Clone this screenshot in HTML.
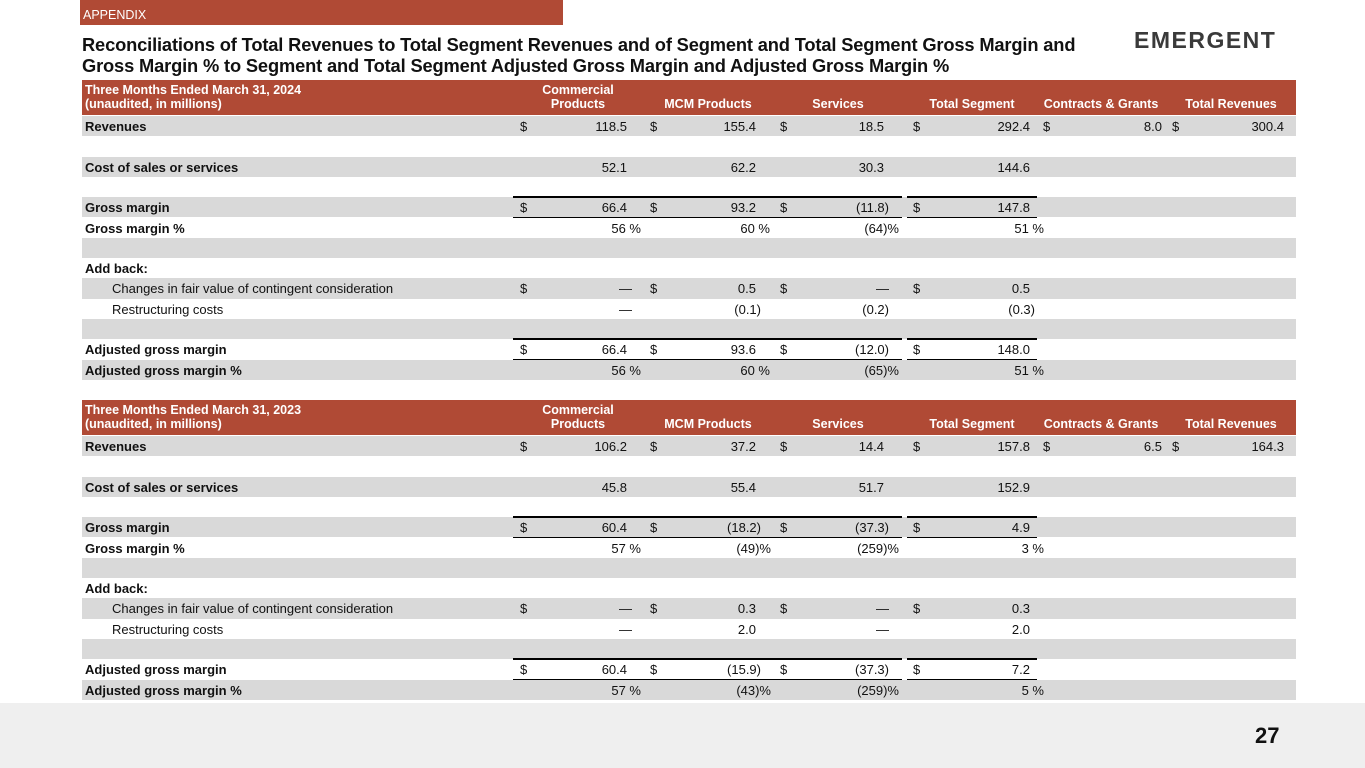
<!DOCTYPE html>
<html><head><meta charset="utf-8">
<style>
body{margin:0;width:1365px;height:768px;position:relative;overflow:hidden;background:#fff;font-family:"Liberation Sans",sans-serif;}
.abs{position:absolute;white-space:pre;}
.tbl-row{position:absolute;left:82px;width:1214px;}
.cell{position:absolute;white-space:pre;font-size:13px;color:#111;}
.hdr{position:absolute;left:82px;width:1214px;height:35px;background:#b04a35;}
.hl{position:absolute;color:#fff;font-weight:bold;font-size:12.5px;line-height:14px;white-space:pre;}
.rule{position:absolute;background:#000;}
</style></head><body>
<div class="abs" style="left:80px;top:0;width:483px;height:25px;background:#b04a35;"></div>
<div class="abs" style="left:83px;top:8px;font-size:12.5px;color:#fff;">APPENDIX</div>
<div class="abs" style="left:82px;top:34px;font-size:18.3px;font-weight:bold;color:#111;line-height:21px;letter-spacing:-0.15px;">Reconciliations of Total Revenues to Total Segment Revenues and of Segment and Total Segment Gross Margin and
Gross Margin % to Segment and Total Segment Adjusted Gross Margin and Adjusted Gross Margin %</div>
<div class="abs" style="left:1134px;top:27px;font-size:23px;font-weight:bold;color:#3a3a3a;letter-spacing:1.5px;">EMERGENT</div>
<div class="abs" style="left:0;top:703px;width:1365px;height:65px;background:#efefef;"></div>
<div class="abs" style="left:1255px;top:723px;font-size:22px;font-weight:bold;color:#111;">27</div>
<div id="root"></div>
<script>
const colHeaders=["Commercial\nProducts","MCM Products","Services","Total Segment","Contracts & Grants","Total Revenues"];
const rowLabels=["Revenues","","Cost of sales or services","","Gross margin","Gross margin %","","Add back:","Changes in fair value of contingent consideration","Restructuring costs","","Adjusted gross margin","Adjusted gross margin %"];
const rowBold=[1,0,1,0,1,1,0,1,0,0,0,1,1];
const rowIndent=[0,0,0,0,0,0,0,0,1,1,0,0,0];
const rowDollar=[1,0,0,0,1,0,0,0,1,0,0,1,0];
const rowPct=[0,0,0,0,0,1,0,0,0,0,0,0,1];
const periods=["Three Months Ended March 31, 2024","Three Months Ended March 31, 2023"];
const values2024=[
 ["118.5","155.4","18.5","292.4","8.0","300.4"],[],
 ["52.1","62.2","30.3","144.6"],[],
 ["66.4","93.2","(11.8)","147.8"],["56","60","(64)","51"],[],[],
 ["—","0.5","—","0.5"],["—","(0.1)","(0.2)","(0.3)"],[],
 ["66.4","93.6","(12.0)","148.0"],["56","60","(65)","51"]];
const values2023=[
 ["106.2","37.2","14.4","157.8","6.5","164.3"],[],
 ["45.8","55.4","51.7","152.9"],[],
 ["60.4","(18.2)","(37.3)","4.9"],["57","(49)","(259)","3"],[],[],
 ["—","0.3","—","0.3"],["—","2.0","—","2.0"],[],
 ["60.4","(15.9)","(37.3)","7.2"],["57","(43)","(259)","5"]];
const dollarX=[520,650,780,913,1043,1172];
const rightX=[627,756,884,1030,1162,1284];
const headCenter=[578,708,838,972,1101,1231];
const ruleSpans=[[513,902],[907,1037]];
const root=document.getElementById('root');
function mk(cls,css,txt){const d=document.createElement('div');d.className=cls;d.style.cssText=css;if(txt!==undefined)d.textContent=txt;root.appendChild(d);return d;}
function table(top,period,vals){
 const pitch=20.3;
 const h=mk('hdr','top:'+top+'px;');
 
 
 const pl=mk('hl','left:85px;top:'+(top+3)+'px;',period+"\n(unaudited, in millions)");
 
 
 colHeaders.forEach((c,i)=>{
  const lines=c.split("\n");
  const e=mk('hl','left:'+(headCenter[i]-80)+'px;width:160px;text-align:center;top:'+(top+(lines.length>1?3:17))+'px;',c);
  
  
 });
 const rt=top+36;
 rowLabels.forEach((lab,r)=>{
  const y=rt+r*pitch;
  const row=mk('tbl-row','top:'+y+'px;height:'+pitch+'px;background:'+(r%2==0?'#d9d9d9':'#fff')+';');
  
  
  if(lab){
   const l=mk('cell','left:'+(rowIndent[r]?112:85)+'px;top:'+(y+3)+'px;font-weight:'+(rowBold[r]?'bold':'normal')+';',lab);
   
   
  }
  const v=vals[r]||[];
  v.forEach((val,c)=>{
   if(rowDollar[r]){
    const d=mk('cell','left:'+dollarX[c]+'px;top:'+(y+3)+'px;','$');
    
    
   }
   const neg=val.startsWith('(');
   let txt=val, pad=0;
   if(rowPct[r]){txt=val+(neg?'':' ')+'%';pad=neg?15:14;}
   else if(neg)pad=5;
   else if(val==='—')pad=5;
   const e=mk('cell','right:'+(1365-rightX[c]-pad)+'px;top:'+(y+3)+'px;text-align:right;',txt);
   
   
  });
  if(r==4||r==11){
   ruleSpans.forEach(s=>{
    const a=mk('rule','left:'+s[0]+'px;width:'+(s[1]-s[0])+'px;top:'+(y-1)+'px;height:2px;');
    
    
    const b=mk('rule','left:'+s[0]+'px;width:'+(s[1]-s[0])+'px;top:'+(y+pitch-1)+'px;height:1px;');
    
    
   });
  }
 });
}
table(80,periods[0],values2024);
table(400,periods[1],values2023);
</script>
</body></html>
